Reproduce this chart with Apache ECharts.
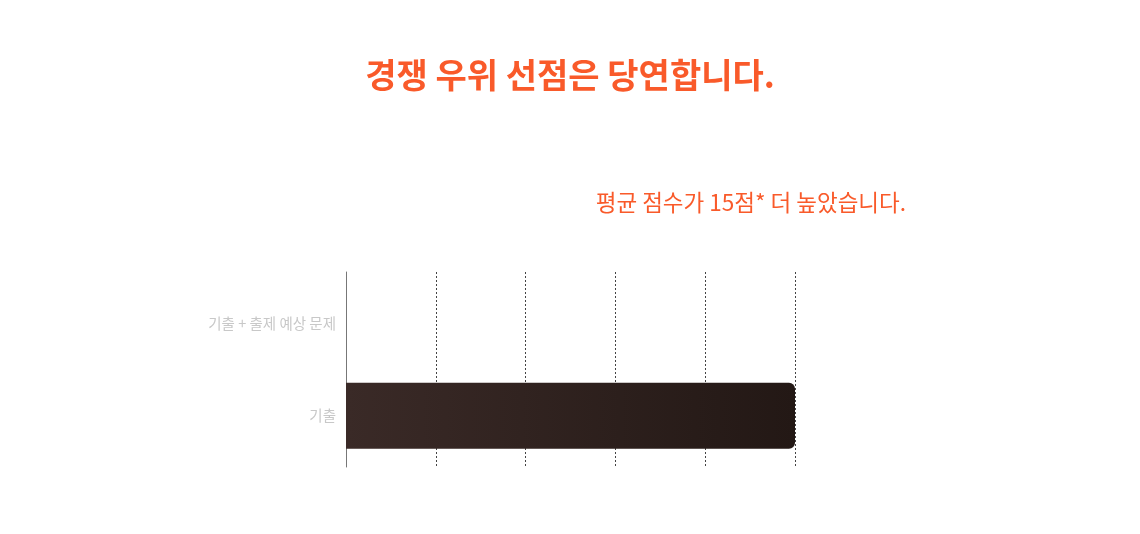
<!DOCTYPE html>
<html>
<head>
<meta charset="utf-8">
<script src="https://cdn.jsdelivr.net/npm/echarts@6/dist/echarts.min.js"></script>
<style>
html,body{margin:0;padding:0;background:#fff;}
#main{width:1140px;height:534px;}
</style>
</head>
<body>
<div id="main"></div>
<script>
const categories = ['기출', '기출 + 출제 예상 문제'];
const scores = [100, null];
const axisMin = 0;
const axisMax = 100;
const axisInterval = 20;
const titleText = '경쟁 우위 선점은 당연합니다.';
const subtitleText = '평균 점수가 15점* 더 높았습니다.';

const chart = echarts.init(document.getElementById('main'));
chart.setOption({
  animation: false,
  backgroundColor: '#ffffff',
  title: [
    {
      text: titleText,
      left: 'center',
      top: 53,
      textStyle: {
        fontFamily: 'Noto Sans CJK KR',
        fontSize: 34,
        fontWeight: 'bold',
        color: '#f95a2a'
      }
    },
    {
      text: subtitleText,
      right: 229,
      top: 186,
      textStyle: {
        fontFamily: 'Noto Sans CJK KR',
        fontSize: 22.5,
        fontWeight: 'normal',
        color: '#f95a2a'
      }
    }
  ],
  grid: [
    { left: 346, right: 345, top: 272, bottom: 67 },
    { left: 346, right: 345, top: 277, bottom: 72 }
  ],
  xAxis: [
    {
      gridIndex: 0,
      type: 'value',
      min: axisMin,
      max: axisMax,
      interval: axisInterval,
      axisLabel: { show: false },
      axisLine: { show: false },
      axisTick: { show: false },
      splitLine: {
        show: true,
        lineStyle: { color: '#444', type: [2, 2], width: 1 }
      }
    },
    {
      gridIndex: 1,
      type: 'value',
      min: axisMin,
      max: axisMax,
      interval: axisInterval,
      axisLabel: { show: false },
      axisLine: { show: false },
      axisTick: { show: false },
      splitLine: { show: false }
    }
  ],
  yAxis: [
    {
      gridIndex: 0,
      type: 'category',
      data: categories,
      axisLine: { show: true, lineStyle: { color: '#777', width: 1 } },
      axisTick: { show: false },
      axisLabel: { show: false },
      splitLine: { show: false }
    },
    {
      gridIndex: 1,
      type: 'category',
      data: categories,
      axisLine: { show: false },
      axisTick: { show: false },
      axisLabel: {
        margin: 10,
        fontFamily: 'Noto Sans CJK KR',
        fontSize: 14.5,
        color: '#c8c8c8'
      },
      splitLine: { show: false }
    }
  ],
  series: [{
    type: 'bar',
    xAxisIndex: 1,
    yAxisIndex: 1,
    data: scores,
    barWidth: 66,
    z: 3,
    itemStyle: {
      borderRadius: [0, 6, 6, 0],
      color: new echarts.graphic.LinearGradient(0, 0, 1, 0, [
        { offset: 0, color: '#3a2a27' },
        { offset: 1, color: '#231815' }
      ])
    }
  }]
});
</script>
</body>
</html>
